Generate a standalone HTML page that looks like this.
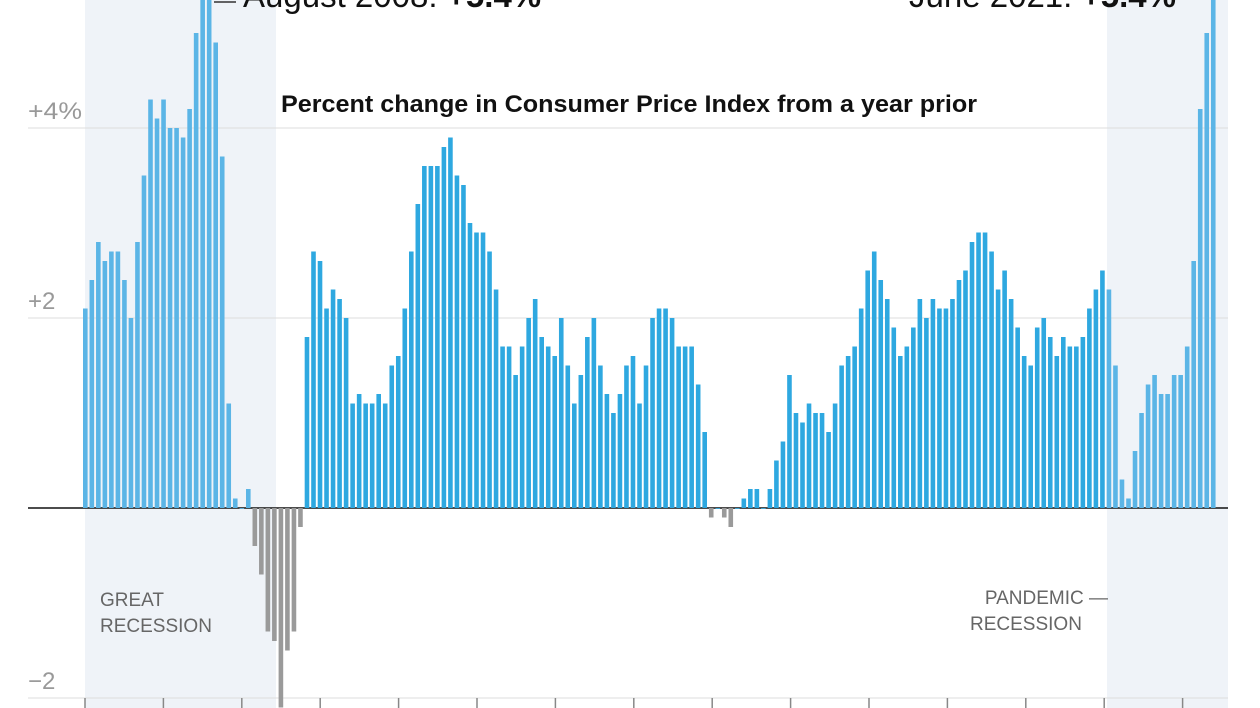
<!DOCTYPE html>
<html><head><meta charset="utf-8">
<style>
html,body{margin:0;padding:0;background:#fff;}
svg{display:block;font-family:"Liberation Sans",sans-serif;}
</style></head>
<body>
<svg id="chart" width="1260" height="708" viewBox="0 0 1260 708">
  <rect x="85" y="0" width="191" height="708" fill="#eff3f8"/>
  <rect x="1107" y="0" width="121" height="708" fill="#eff3f8"/>
  <g id="grid"></g>
  <g id="bars"></g>
  <g id="axis"></g>
  <text x="281" y="112" font-size="24" font-weight="bold" fill="#111" textLength="696" lengthAdjust="spacingAndGlyphs">Percent change in Consumer Price Index from a year prior</text>
  <line x1="214" y1="2" x2="236" y2="2" stroke="#333" stroke-width="1.5"/>
  <text x="243" y="7" font-size="33" fill="#111">August 2008: <tspan font-weight="bold">+5.4%</tspan></text>
  <text x="1176" y="7" font-size="33" fill="#111" text-anchor="end">June 2021: <tspan font-weight="bold">+5.4%</tspan></text>
  <text x="100" y="606" font-size="19" fill="#666">GREAT</text>
  <text x="100" y="632" font-size="19" fill="#666">RECESSION</text>
  <text x="1108" y="604" font-size="19" fill="#666" text-anchor="end">PANDEMIC —</text>
  <text x="970" y="630" font-size="19" fill="#666">RECESSION</text>
</svg>
<script>
const values = [
2.1,2.4,2.8,2.6,2.7,2.7,2.4,2.0,2.8,3.5,4.3,4.1,
4.3,4.0,4.0,3.9,4.2,5.0,5.6,5.4,4.9,3.7,1.1,0.1,
0.0,0.2,-0.4,-0.7,-1.3,-1.4,-2.1,-1.5,-1.3,-0.2,1.8,2.7,
2.6,2.1,2.3,2.2,2.0,1.1,1.2,1.1,1.1,1.2,1.1,1.5,
1.6,2.1,2.7,3.2,3.6,3.6,3.6,3.8,3.9,3.5,3.4,3.0,
2.9,2.9,2.7,2.3,1.7,1.7,1.4,1.7,2.0,2.2,1.8,1.7,
1.6,2.0,1.5,1.1,1.4,1.8,2.0,1.5,1.2,1.0,1.2,1.5,
1.6,1.1,1.5,2.0,2.1,2.1,2.0,1.7,1.7,1.7,1.3,0.8,
-0.1,0.0,-0.1,-0.2,0.0,0.1,0.2,0.2,0.0,0.2,0.5,0.7,
1.4,1.0,0.9,1.1,1.0,1.0,0.8,1.1,1.5,1.6,1.7,2.1,
2.5,2.7,2.4,2.2,1.9,1.6,1.7,1.9,2.2,2.0,2.2,2.1,
2.1,2.2,2.4,2.5,2.8,2.9,2.9,2.7,2.3,2.5,2.2,1.9,
1.6,1.5,1.9,2.0,1.8,1.6,1.8,1.7,1.7,1.8,2.1,2.3,
2.5,2.3,1.5,0.3,0.1,0.6,1.0,1.3,1.4,1.2,1.2,1.4,
1.4,1.7,2.6,4.2,5.0,5.4];
const yTicks = [4,2,0,-2];
const yTickLabels = ["+4%","+2","","−2"];
const years = [2007,2008,2009,2010,2011,2012,2013,2014,2015,2016,2017,2018,2019,2020,2021];

const NS="http://www.w3.org/2000/svg";
const y = v => 508 - v*95;
const x = i => 83 + i*6.52;
const yearX = k => 85 + k*78.4;
function mk(tag, attrs, parent){const e=document.createElementNS(NS,tag);for(const k in attrs)e.setAttribute(k,attrs[k]);parent.appendChild(e);return e;}

const grid=document.getElementById('grid');
yTicks.forEach((t,k)=>{
  const l=mk('line',{x1:28,x2:1228,y1:y(t),y2:y(t),stroke:t===0?'#111':'#ddd','stroke-width':t===0?1.5:1},grid);
  
  
  if(yTickLabels[k]){
    const attrs={x:28,y:y(t)-9,'font-size':24,fill:'#999'};
    if(yTickLabels[k]==="+4%"){attrs.textLength=54;attrs.lengthAdjust="spacingAndGlyphs";}
    const tx=mk('text',attrs,grid);
    tx.textContent=yTickLabels[k];
    
    
  }
});

const bars=document.getElementById('bars');
values.forEach((v,i)=>{
  const inRec = x(i)<276 || x(i)>1105;
  const col = v<0 ? '#9a9a9a' : (inRec ? '#5bb5e6' : '#2ea8e0');
  const top=Math.min(y(v),508), h=Math.abs(y(v)-508);
  const r=mk('rect',{x:x(i).toFixed(2),y:top,width:4.6,height:Math.max(h,0.8),fill:col},bars);
  
  
});

const axis=document.getElementById('axis');
years.forEach((yr,k)=>{
  const t=mk('line',{x1:yearX(k),x2:yearX(k),y1:698,y2:708,stroke:'#888','stroke-width':1.5},axis);
  
  
});
</script>
</body></html>
